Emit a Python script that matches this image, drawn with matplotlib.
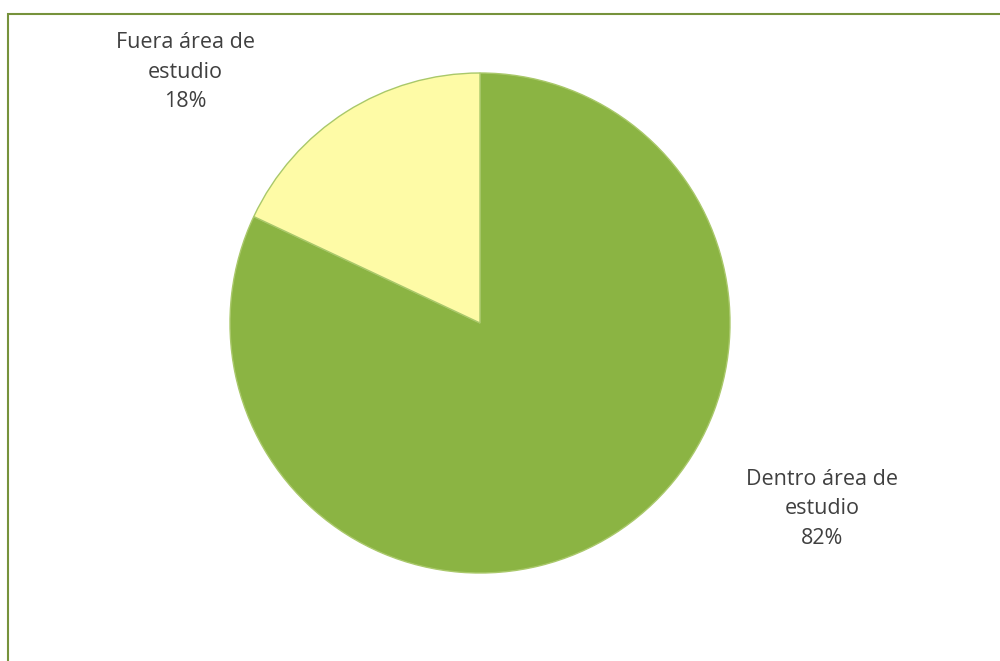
import matplotlib
matplotlib.use("Agg")
import matplotlib.pyplot as plt
from matplotlib.patches import Rectangle

categories = ["Dentro área de\nestudio", "Fuera área de\nestudio"]
values = [82, 18]
colors = ["#8BB443", "#FEFBA6"]

fig = plt.figure(figsize=(10, 6.61), dpi=100)
fig.patch.set_facecolor("white")

# frame
fig.add_artist(Rectangle((8/1000, -0.05), 1.1, (661-14)/661 + 0.05,
                         transform=fig.transFigure, fill=False,
                         edgecolor="#76923C", linewidth=1.5))

cx, cy, r = 480, 323, 250
ax = fig.add_axes([(cx - r)/1000, (661 - cy - r)/661, 2*r/1000, 2*r/661])
wedges, _ = ax.pie(values, colors=colors, startangle=90, counterclock=False,
                   wedgeprops=dict(edgecolor="#A9C86A", linewidth=1.0))
ax.set_xlim(-1, 1)
ax.set_ylim(-1, 1)
ax.set_aspect("equal")
ax.axis("off")

lab_pos = [(822, 509), (185, 72)]
for cat, v, (px, py) in zip(categories, values, lab_pos):
    fig.text(px/1000, 1 - py/661, f"{cat}\n{v}%", ha="center", va="center",
             fontsize=15.5, family="Open Sans", color="#404040", linespacing=1.55)

fig.savefig("out.png", dpi=100)
